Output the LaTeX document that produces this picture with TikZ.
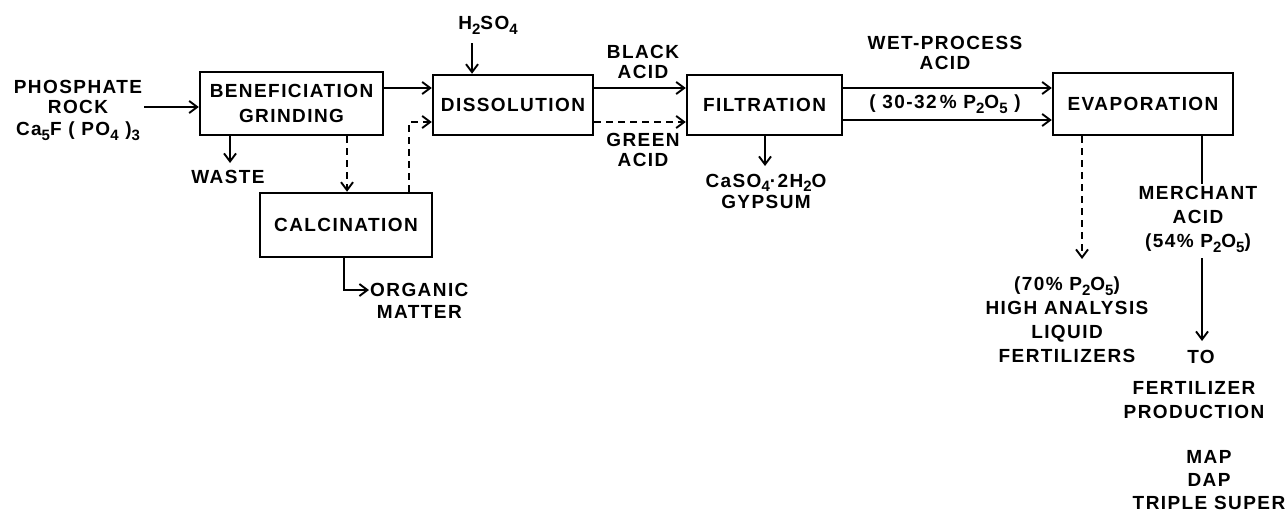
\documentclass[tikz,border=0pt]{standalone}
\usepackage{fontspec}
\setmainfont{Liberation Sans}[LetterSpace=7.5, UprightFont=* Bold]
\usetikzlibrary{arrows.meta}
\newcommand{\lsub}[1]{\smash{\raisebox{-0.45ex}{\fontsize{15}{15}\selectfont #1}}}
\newcommand{\lettering}{\fontsize{19}{21}\selectfont}
\begin{document}
\begin{tikzpicture}[x=1pt,y=-1pt,
  box/.style={draw, line width=2.5pt, inner sep=0pt, align=center, font=\lettering},
  lbl/.style={inner sep=2pt, align=center, font=\lettering},
  arr/.style={line width=2pt, -{Straight Barb[length=8pt,width=12pt,line width=1.9pt]}},
  ln/.style={line width=2pt},
  dsh/.style={dash pattern=on 7pt off 5pt}]
\useasboundingbox (0,0) rectangle (1285,514);
% boxes
\node[box, minimum width=183pt, minimum height=63pt, font=\fontsize{19}{25}\selectfont] (ben) at (291.5,103.5) {BENEFICIATION\\GRINDING};
\node[box, minimum width=160pt, minimum height=60pt] (dis) at (513,105) {DISSOLUTION};
\node[box, minimum width=155pt, minimum height=60pt] (fil) at (764.5,105) {FILTRATION};
\node[box, minimum width=180pt, minimum height=62pt] (eva) at (1143,104) {EVAPORATION};
\node[box, minimum width=172pt, minimum height=64pt] (cal) at (346,225) {CALCINATION};
% labels
\node[lbl, font=\fontsize{19}{19.5}\selectfont] (rock) at (78,110) {PHOSPHATE\\ROCK\\[3pt]Ca\lsub{5}F ( PO\lsub{4} )\lsub{3}};
\node[lbl] (waste) at (228,177) {WASTE};
\node[lbl] (h2so4) at (488,23) {H\lsub{2}SO\lsub{4}};
\node[lbl, font=\fontsize{19}{20}\selectfont] (black) at (643,62) {BLACK\\ACID};
\node[lbl, font=\fontsize{19}{20}\selectfont] (green) at (643,150) {GREEN\\ACID};
\node[lbl, font=\fontsize{19}{21}\selectfont] (gyp) at (766,191) {CaSO\lsub{4}·2H\lsub{2}O\\GYPSUM};
\node[lbl, font=\fontsize{19}{20}\selectfont] (wet) at (945,53) {WET-PROCESS\\ACID};
\node[lbl] (conc) at (945,104) {( 30-32\,\% P\lsub{2}O\lsub{5} )};
\node[lbl, font=\fontsize{19}{24}\selectfont] (liq) at (1067,320) {(70\% P\lsub{2}O\lsub{5})\\HIGH ANALYSIS\\LIQUID\\FERTILIZERS};
\node[lbl, font=\fontsize{19}{24}\selectfont] (merch) at (1198,219) {MERCHANT\\ACID\\(54\% P\lsub{2}O\lsub{5})};
\node[lbl] (to) at (1201,357) {TO};
\node[lbl, font=\fontsize{19}{24}\selectfont] (prod) at (1194,400) {FERTILIZER\\PRODUCTION};
\node[lbl, font=\fontsize{19}{23}\selectfont] (prods) at (1209,480) {MAP\\DAP\\TRIPLE SUPER};
\node[lbl, anchor=west, font=\fontsize{19}{22}\selectfont] (org) at (368,301) {ORGANIC\\MATTER};
\coordinate (orgin) at (369,290);
\coordinate (liqin) at (1082,259);
\coordinate (toin) at (1202,341);
\coordinate (merchout) at (1202,258);
\coordinate (h2out) at (472,43);
% connectors
\draw[arr] (rock.east |- 0,107) -- (ben.west |- 0,107);
\draw[arr] (ben.east |- 0,88) -- (dis.west |- 0,88);
\draw[arr] (ben.south -| 230,0) -- (230,163);
\draw[arr, dsh] (ben.south -| 347,0) -- (cal.north -| 347,0);
\draw[arr, dsh] (cal.north -| 409,0) |- (dis.west |- 0,122);
\draw[arr] (h2out) -- (dis.north -| h2out);
\draw[arr] (dis.east |- 0,88) -- (fil.west |- 0,88);
\draw[arr, dsh] (dis.east |- 0,122) -- (fil.west |- 0,122);
\draw[arr] (fil.south -| 765,0) -- (765,166);
\draw[arr] (fil.east |- 0,88) -- (eva.west |- 0,88);
\draw[arr] (fil.east |- 0,120) -- (eva.west |- 0,120);
\draw[arr, dsh] (eva.south -| 1082,0) -- (liqin);
\draw[ln] (eva.south -| 1202,0) -- (merch.north -| 1202,0);
\draw[arr] (merchout) -- (toin);
\draw[arr] (cal.south -| 344,0) |- (orgin);
\end{tikzpicture}
\end{document}
